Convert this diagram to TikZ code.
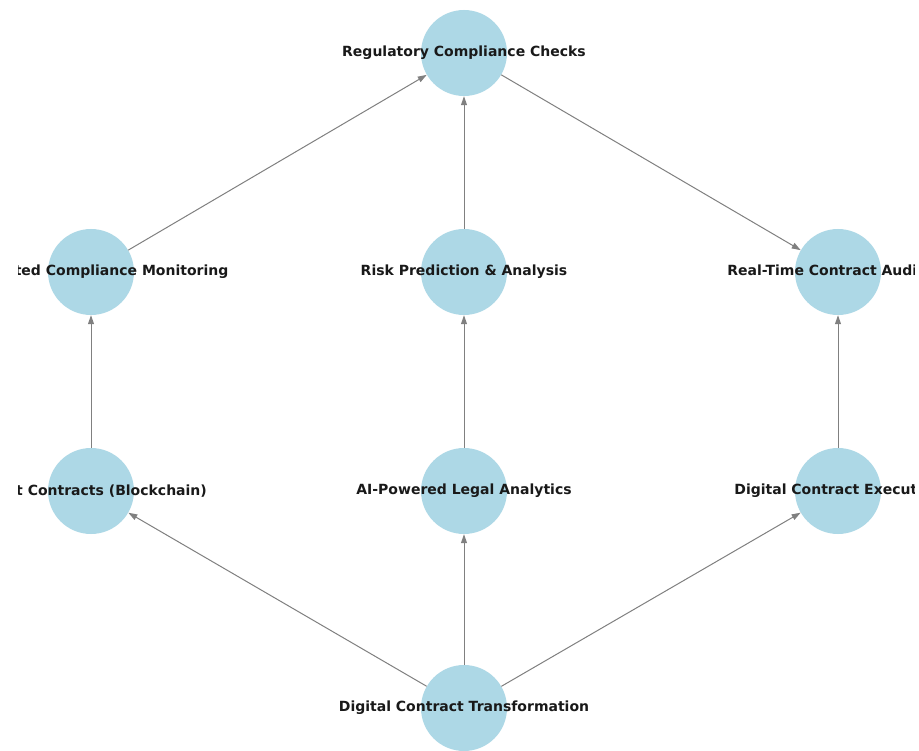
\documentclass[tikz,border=0pt]{standalone}
\usepackage{fontspec}
\setmainfont{DejaVu Sans}
\usetikzlibrary{arrows.meta}

\definecolor{nodeblue}{HTML}{ADD8E6}
\definecolor{edgegray}{HTML}{808080}

\tikzset{
    stage/.style={circle, fill=nodeblue, draw=none, minimum size=86pt, inner sep=0pt,
        label={[font=\fontsize{14}{16}\selectfont\bfseries, text=black!90]center:#1}},
    flow/.style={draw=edgegray, line width=1pt, -{Stealth[length=9pt, width=6pt, inset=0pt]}}
}

\begin{document}
\begin{tikzpicture}[x=1pt, y=-1pt]
    \path[use as bounding box] (0,0) rectangle (919,751);
    \fill[white] (0,0) rectangle (919,751);
    \clip (18,0) rectangle (914,751);

    \node[stage={Regulatory Compliance Checks}] (rcc) at (464,53) {};
    \node[stage={Automated Compliance Monitoring}] (acm) at (91,272) {};
    \node[stage={Risk Prediction \& Analysis}] (rpa) at (464,272) {};
    \node[stage={Real-Time Contract Auditing}] (rta) at (838,272) {};
    \node[stage={Smart Contracts (Blockchain)}] (sc) at (91,491) {};
    \node[stage={AI-Powered Legal Analytics}] (ai) at (464,491) {};
    \node[stage={Digital Contract Execution}] (dce) at (838,491) {};
    \node[stage={Digital Contract Transformation}] (dct) at (464,708) {};

    \draw[flow] (dct) -- (sc);
    \draw[flow] (dct) -- (ai);
    \draw[flow] (dct) -- (dce);
    \draw[flow] (sc) -- (acm);
    \draw[flow] (ai) -- (rpa);
    \draw[flow] (dce) -- (rta);
    \draw[flow] (acm) -- (rcc);
    \draw[flow] (rpa) -- (rcc);
    \draw[flow] (rcc) -- (rta);

\end{tikzpicture}
\end{document}
